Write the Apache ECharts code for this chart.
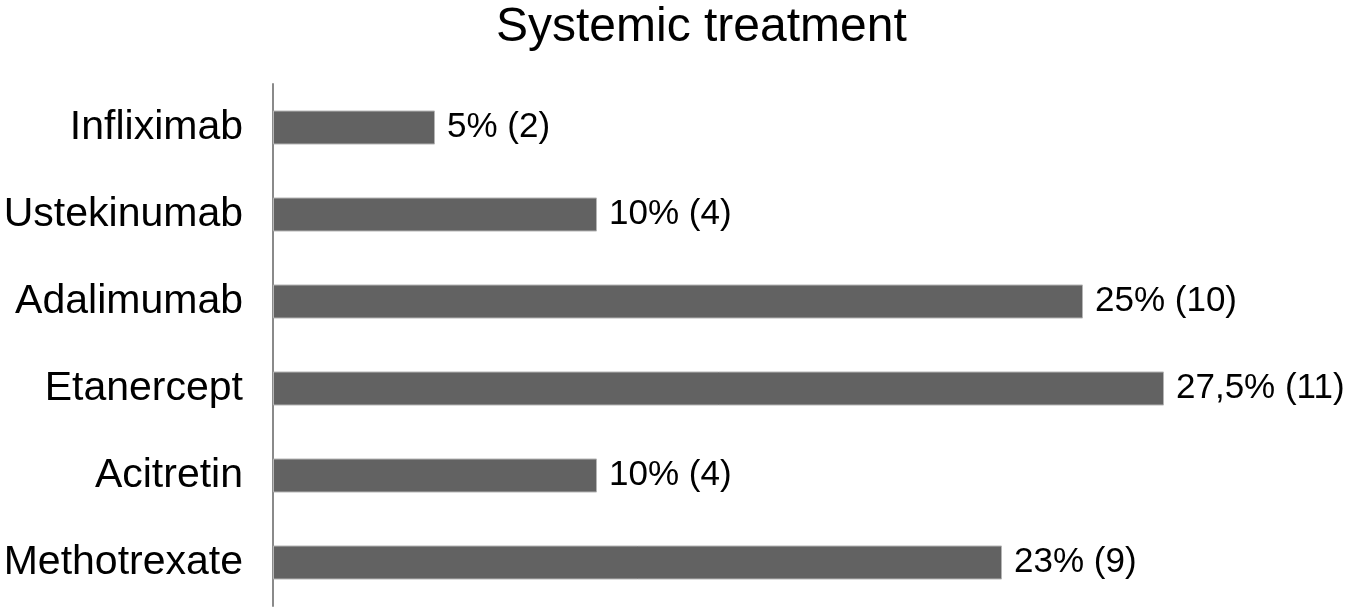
<!DOCTYPE html>
<html>
<head>
<meta charset="utf-8">
<script src="https://cdn.jsdelivr.net/npm/echarts@6/dist/echarts.min.js"></script>
<style>
html,body{margin:0;padding:0;background:#fff;}
#chart{width:1345px;height:610px;}
</style>
</head>
<body>
<div id="chart"></div>
<script>
const titleText = "Systemic treatment";
const categories = ["Infliximab", "Ustekinumab", "Adalimumab", "Etanercept", "Acitretin", "Methotrexate"];
const counts = [2, 4, 10, 11, 4, 9];
const percentLabels = ["5%", "10%", "25%", "27,5%", "10%", "23%"];

const chart = echarts.init(document.getElementById('chart'));
chart.setOption({
  backgroundColor: '#ffffff',
  animation: false,
  title: {
    text: titleText,
    left: 491,
    top: -1,
    textStyle: { fontFamily: 'Liberation Sans, Arial, sans-serif', fontSize: 48, fontWeight: 'normal', color: '#000' }
  },
  grid: { left: 273, top: 84, width: 1053, height: 522, containLabel: false },
  xAxis: {
    type: 'value', min: 0, max: 13,
    show: false
  },
  yAxis: {
    type: 'category',
    data: categories.slice().reverse(),
    axisLine: { show: true, lineStyle: { color: '#8a8a8a', width: 2 } },
    axisTick: { show: false },
    axisLabel: {
      margin: 30,
      fontFamily: 'Liberation Sans, Arial, sans-serif',
      fontSize: 41,
      color: '#000'
    },
    splitLine: { show: false }
  },
  series: [{
    type: 'bar',
    data: counts.slice().reverse(),
    barWidth: 34,
    itemStyle: { color: '#626262', borderColor: '#b5b5b5', borderWidth: 1 },
    label: {
      show: true,
      position: 'right',
      distance: 12,
      fontFamily: 'Liberation Sans, Arial, sans-serif',
      fontSize: 35,
      color: '#000',
      formatter: function (p) {
        const i = categories.length - 1 - p.dataIndex;
        return percentLabels[i] + ' (' + counts[i] + ')';
      }
    }
  }]
});
</script>
</body>
</html>
